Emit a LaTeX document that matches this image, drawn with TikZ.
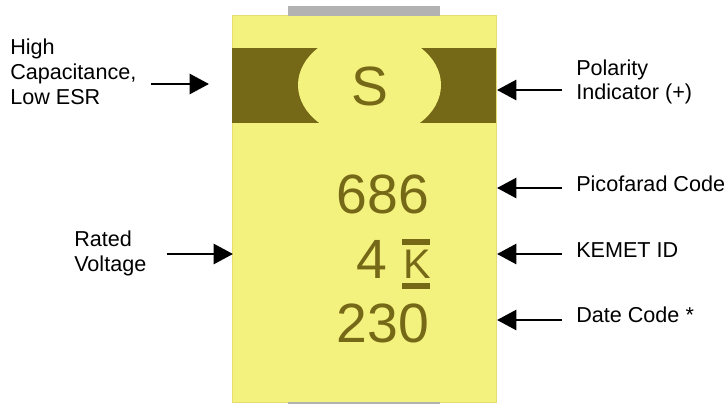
\documentclass[tikz,border=0pt]{standalone}
\usepackage{fontspec}
\setmainfont{Liberation Sans}
\usetikzlibrary{arrows.meta}
\definecolor{bodyy}{HTML}{F4F27F}
\definecolor{edgey}{HTML}{E8DD6E}
\definecolor{darky}{HTML}{756816}
\definecolor{graybar}{HTML}{B2B2B2}
\tikzset{
 lbl/.style={inner sep=0pt,anchor=west,align=left,font=\fontsize{16.2pt}{18.6pt}\selectfont,text=black},
 lbls/.style={inner sep=0pt,anchor=base west,font=\fontsize{16.2pt}{18.6pt}\selectfont,text=black},
 big/.style={inner sep=0pt,anchor=base,text=darky,font=\fontsize{41.5pt}{41.5pt}\selectfont},
 arr/.style={draw=black,line width=2pt,-{Triangle[length=14.5pt,width=15pt]}}
}
\begin{document}
\begin{tikzpicture}[x=0.75pt,y=-0.75pt]
\useasboundingbox (0,0) rectangle (728,404);
\filldraw[fill=bodyy,draw=edgey,line width=0.75pt] (232,15) rectangle (496,402);
\fill[graybar] (288,6) rectangle (440,15.5);
\fill[graybar] (288,402) rectangle (440,404);
\fill[darky] (232,48) rectangle (496,123);
\begin{scope}
\clip (232,15) rectangle (496,402);
\fill[bodyy] (369.5,85) ellipse [x radius=71.5, y radius=53.3];
\end{scope}
\node[big] (s) at (369.5,105.5) {S};
\node[big] (n686) at (383,213) {686};
\node[big] (n4) at (372,278) {4};
\node[big,font=\fontsize{31pt}{31pt}\selectfont] (k) at (417,278) {K};
\fill[darky] (402,239) rectangle (430,245);
\fill[darky] (402,283) rectangle (430,289);
\node[big] (n230) at (383,342) {230};
\node[lbl] (high) at (10,72) {High\\Capacitance,\\Low ESR};
\node[lbl] (pol) at (576,82) {Polarity\\Indicator (+)};
\node[lbls] (pico) at (576,191.7) {Picofarad Code};
\node[lbls] (kem) at (576,257) {KEMET ID};
\node[lbls] (date) at (576,322.7) {Date Code *};
\node[lbl] (rated) at (74,253.5) {Rated\\Voltage};
\coordinate (a1) at (151,84); \coordinate (a1e) at (209,84);
\coordinate (a2) at (562,90); \coordinate (a2e) at (497,90);
\coordinate (a3) at (562,188); \coordinate (a3e) at (497,188);
\coordinate (a4) at (562,254); \coordinate (a4e) at (497,254);
\coordinate (a5) at (562,320); \coordinate (a5e) at (497,320);
\coordinate (a6) at (167,254); \coordinate (a6e) at (233,254);
\draw[arr] (a1)--(a1e);
\draw[arr] (a2)--(a2e);
\draw[arr] (a3)--(a3e);
\draw[arr] (a4)--(a4e);
\draw[arr] (a5)--(a5e);
\draw[arr] (a6)--(a6e);
\end{tikzpicture}
\end{document}
